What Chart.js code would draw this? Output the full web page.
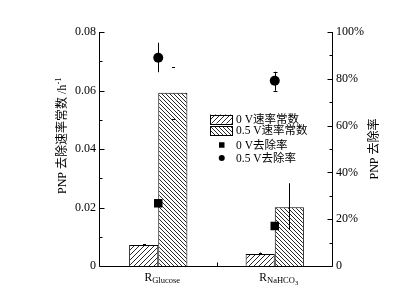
<!DOCTYPE html>
<html><head><meta charset="utf-8">
<script src="https://cdn.jsdelivr.net/npm/chart.js@4.4.1/dist/chart.umd.min.js"></script>
<style>html,body{margin:0;padding:0;background:#fff;}#wrap{width:415px;height:292px;position:relative;}</style>
</head><body><div id="wrap"><canvas id="c" width="415" height="292"></canvas></div>
<script>
// ---- data ----
const categories = ['Glucose', 'NaHCO3'];
const seriesLabels = ['0 V速率常数', '0.5 V速率常数', '0 V去除率', '0.5 V去除率'];
const rate0V = [0.0072, 0.0041];
const rate0VErrHigh = [0.0075, 0.0046];
const rate05V = [0.0592, 0.0201];
const rate05VErrLow = [0.0503, 0.0123];
const rate05VErrHigh = [0.0681, 0.0283];
const removal0V = [26.8, 17.1];
const removal05V = [89.0, 79.2];
const removal05VErrLow = [82.8, 74.9];
const removal05VErrHigh = [95.4, 83.0];
const leftTicks = [0, 0.02, 0.04, 0.06, 0.08];
const leftMinorTicks = [0.01, 0.03, 0.05, 0.07];
const rightTicks = [0, 20, 40, 60, 80, 100];
const rightMinorTicks = [10, 30, 50, 70, 90];
const leftTitle = ['PNP 去除速率常数 /h', '-1'];
const rightTitle = 'PNP 去除率';

const LAT = '"Liberation Serif", "Noto Sans CJK SC", serif';
const font = s => s + 'px ' + LAT;

function hatch(dir, p) {
  const c = document.createElement('canvas'); c.width = p; c.height = p;
  const g = c.getContext('2d');
  g.fillStyle = '#fff'; g.fillRect(0, 0, p, p);
  g.strokeStyle = '#111'; g.lineWidth = 0.9;
  g.beginPath();
  if (dir === '/') {
    g.moveTo(-1, p + 1); g.lineTo(p + 1, -1);
    g.moveTo(-1, 1); g.lineTo(1, -1);
    g.moveTo(p - 1, p + 1); g.lineTo(p + 1, p - 1);
  } else {
    g.moveTo(-1, -1); g.lineTo(p + 1, p + 1);
    g.moveTo(p - 1, -1); g.lineTo(p + 1, 1);
    g.moveTo(-1, p - 1); g.lineTo(1, p + 1);
  }
  g.stroke();
  return g.createPattern(c, 'repeat');
}
const hatch0 = hatch('/', 5);
const hatch05 = hatch('\\', 4);

const errorBarPlugin = {
  id: 'errbars',
  afterDatasetsDraw(chart, args, opts) {
    const ctx = chart.ctx;
    ctx.save();
    ctx.strokeStyle = '#000'; ctx.lineWidth = 1;
    (opts.items || []).forEach(it => {
      const meta = chart.getDatasetMeta(it.ds);
      const sc = chart.scales[chart.data.datasets[it.ds].yAxisID];
      meta.data.forEach((el, i) => {
        const val = chart.data.datasets[it.ds].data[i];
        const lo = it.low ? it.low[i] : val;
        const hi = it.high ? it.high[i] : val;
        const x = Math.round(el.x) + 0.5;
        const yl = sc.getPixelForValue(lo), yh = sc.getPixelForValue(hi);
        ctx.beginPath();
        if (it.line[i]) { ctx.moveTo(x, yl); ctx.lineTo(x, yh); }
        const cw = it.cap[i];
        if (cw) {
          ctx.moveTo(x - cw / 2, Math.round(yh) + 0.5); ctx.lineTo(x + cw / 2, Math.round(yh) + 0.5);
          if (it.low) { ctx.moveTo(x - cw / 2, Math.round(yl) + 0.5); ctx.lineTo(x + cw / 2, Math.round(yl) + 0.5); }
        }
        ctx.stroke();
      });
    });
    ctx.restore();
  }
};

const decorPlugin = {
  id: 'decor',
  afterDraw(chart) {
    const ctx = chart.ctx, a = chart.chartArea;
    const y = chart.scales.y, y1 = chart.scales.y1, x = chart.scales.x;
    ctx.save();
    ctx.strokeStyle = '#000'; ctx.lineWidth = 1;
    const L = Math.round(a.left) - 0.5, R = Math.round(a.right) - 0.5, B = Math.round(a.bottom) + 0.5, T = Math.round(a.top);
    ctx.beginPath();
    ctx.moveTo(L, T); ctx.lineTo(L, B);
    ctx.moveTo(R, T); ctx.lineTo(R, B);
    ctx.moveTo(L, B); ctx.lineTo(R, B);
    leftTicks.forEach(v => { const p = Math.round(y.getPixelForValue(v)) + 0.5; ctx.moveTo(L, p); ctx.lineTo(L + 5, p); });
    leftMinorTicks.forEach(v => { const p = Math.round(y.getPixelForValue(v)) + 0.5; ctx.moveTo(L, p); ctx.lineTo(L + 3, p); });
    rightTicks.forEach(v => { const p = Math.round(y1.getPixelForValue(v)) + 0.5; ctx.moveTo(R, p); ctx.lineTo(R - 5, p); });
    rightMinorTicks.forEach(v => { const p = Math.round(y1.getPixelForValue(v)) + 0.5; ctx.moveTo(R, p); ctx.lineTo(R - 3, p); });
    for (let i = 0; i < categories.length - 1; i++) {
      const p = Math.round((x.getPixelForValue(i) + x.getPixelForValue(i + 1)) / 2) + 0.5;
      ctx.moveTo(p, B); ctx.lineTo(p, B - 4);
    }
    ctx.stroke();

    ctx.fillStyle = '#000';
    // x category labels: R with subscript
    categories.forEach((c, i) => {
      const cx = x.getPixelForValue(i) + 4;
      const m = c.match(/^(.*?)(\d*)$/);
      const main = m[1], sub = m[2];
      ctx.font = font(11.5); const wR = ctx.measureText('R').width;
      ctx.font = font(8.5); const wS = ctx.measureText(main).width;
      ctx.font = font(6.5); const wN = sub ? ctx.measureText(sub).width : 0;
      let sx = cx - (wR + wS + wN) / 2;
      const base = a.bottom + 15;
      ctx.textAlign = 'left'; ctx.textBaseline = 'alphabetic';
      ctx.font = font(11.5); ctx.fillText('R', sx, base); sx += wR;
      ctx.font = font(8.5); ctx.fillText(main, sx, base + 2); sx += wS;
      if (sub) { ctx.font = font(6.5); ctx.fillText(sub, sx, base + 4); }
    });

    // left title
    ctx.save();
    ctx.translate(a.left - 37, (a.top + a.bottom) / 2 - 13);
    ctx.rotate(-Math.PI / 2);
    ctx.font = font(12); const w1 = ctx.measureText(leftTitle[0]).width;
    ctx.font = font(8); const w2 = ctx.measureText(leftTitle[1]).width;
    ctx.textBaseline = 'middle'; ctx.textAlign = 'left';
    ctx.font = font(12); ctx.fillText(leftTitle[0], -(w1 + w2) / 2, 0);
    ctx.font = font(8); ctx.fillText(leftTitle[1], -(w1 + w2) / 2 + w1 + 0.5, -4);
    ctx.restore();
    // right title
    ctx.save();
    ctx.translate(a.right + 42, (a.top + a.bottom) / 2);
    ctx.rotate(-Math.PI / 2);
    ctx.font = font(12); ctx.textAlign = 'center'; ctx.textBaseline = 'middle';
    ctx.fillText(rightTitle, 0, 0);
    ctx.restore();

    // legend
    const lx = a.left + 110, rows = [a.top + 87, a.top + 98.5, a.top + 113, a.top + 126];
    ctx.font = font(11.5); ctx.textAlign = 'left'; ctx.textBaseline = 'middle';
    [hatch0, hatch05].forEach((pat, k) => {
      const ry = rows[k];
      ctx.fillStyle = pat; ctx.fillRect(lx, ry - 4.5, 23, 9);
      ctx.strokeStyle = '#000'; ctx.lineWidth = 1; ctx.strokeRect(lx + 0.5, Math.round(ry - 4.5) + 0.5, 22, 9);
    });
    ctx.fillStyle = '#000';
    ctx.fillRect(lx + 9, rows[2] - 2.75, 5.5, 5.5);
    ctx.beginPath(); ctx.arc(lx + 11.75, rows[3], 3, 0, Math.PI * 2); ctx.fill();
    seriesLabels.forEach((t, k) => ctx.fillText(t, lx + 26, rows[k] + 0.5));
    ctx.restore();
  }
};

new Chart(document.getElementById('c'), {
  data: {
    labels: categories,
    datasets: [
      { type: 'bar', label: seriesLabels[0], data: rate0V, yAxisID: 'y', backgroundColor: hatch0, borderColor: '#000', borderWidth: 1, order: 2, categoryPercentage: 0.5, barPercentage: 1.0 },
      { type: 'bar', label: seriesLabels[1], data: rate05V, yAxisID: 'y', backgroundColor: hatch05, borderColor: '#000', borderWidth: 1, order: 2, categoryPercentage: 0.5, barPercentage: 1.0 },
      { type: 'line', label: seriesLabels[2], data: removal0V, yAxisID: 'y1', showLine: false, pointStyle: 'rect', pointRadius: 6, backgroundColor: '#000', borderColor: '#000', borderWidth: 0, order: 1 },
      { type: 'line', label: seriesLabels[3], data: removal05V, yAxisID: 'y1', showLine: false, pointStyle: 'circle', pointRadius: 5, backgroundColor: '#000', borderColor: '#000', borderWidth: 0, order: 1 }
    ]
  },
  options: {
    responsive: false, animation: false, events: [],
    layout: { padding: { top: 32, left: 0, right: 0, bottom: 0 } },
    plugins: {
      legend: { display: false }, tooltip: { enabled: false },
      errbars: { items: [
        { ds: 0, low: null, high: rate0VErrHigh, line: [true, true], cap: [3, 3] },
        { ds: 1, low: rate05VErrLow, high: rate05VErrHigh, line: [false, true], cap: [3, 0] },
        { ds: 3, low: removal05VErrLow, high: removal05VErrHigh, line: [true, true], cap: [0, 4] }
      ] }
    },
    scales: {
      x: { type: 'category', offset: true, grid: { display: false, drawTicks: false }, border: { display: false }, ticks: { display: false }, afterFit: s => { s.height = 26; } },
      y: { type: 'linear', position: 'left', min: 0, max: 0.08,
        grid: { display: false, drawTicks: false }, border: { display: false },
        afterBuildTicks: s => { s.ticks = leftTicks.map(v => ({ value: v })); },
        ticks: { color: '#000', font: { family: LAT, size: 12 }, padding: 4, callback: v => v === 0 ? '0' : v.toFixed(2) },
        afterFit: s => { s.width = 100; } },
      y1: { type: 'linear', position: 'right', min: 0, max: 100,
        grid: { display: false, drawTicks: false }, border: { display: false },
        afterBuildTicks: s => { s.ticks = rightTicks.map(v => ({ value: v })); },
        ticks: { color: '#000', font: { family: LAT, size: 12 }, padding: 3, callback: v => v === 0 ? '0' : v + '%' },
        afterFit: s => { s.width = 82; } }
    }
  },
  plugins: [errorBarPlugin, decorPlugin]
});
</script></body></html>
